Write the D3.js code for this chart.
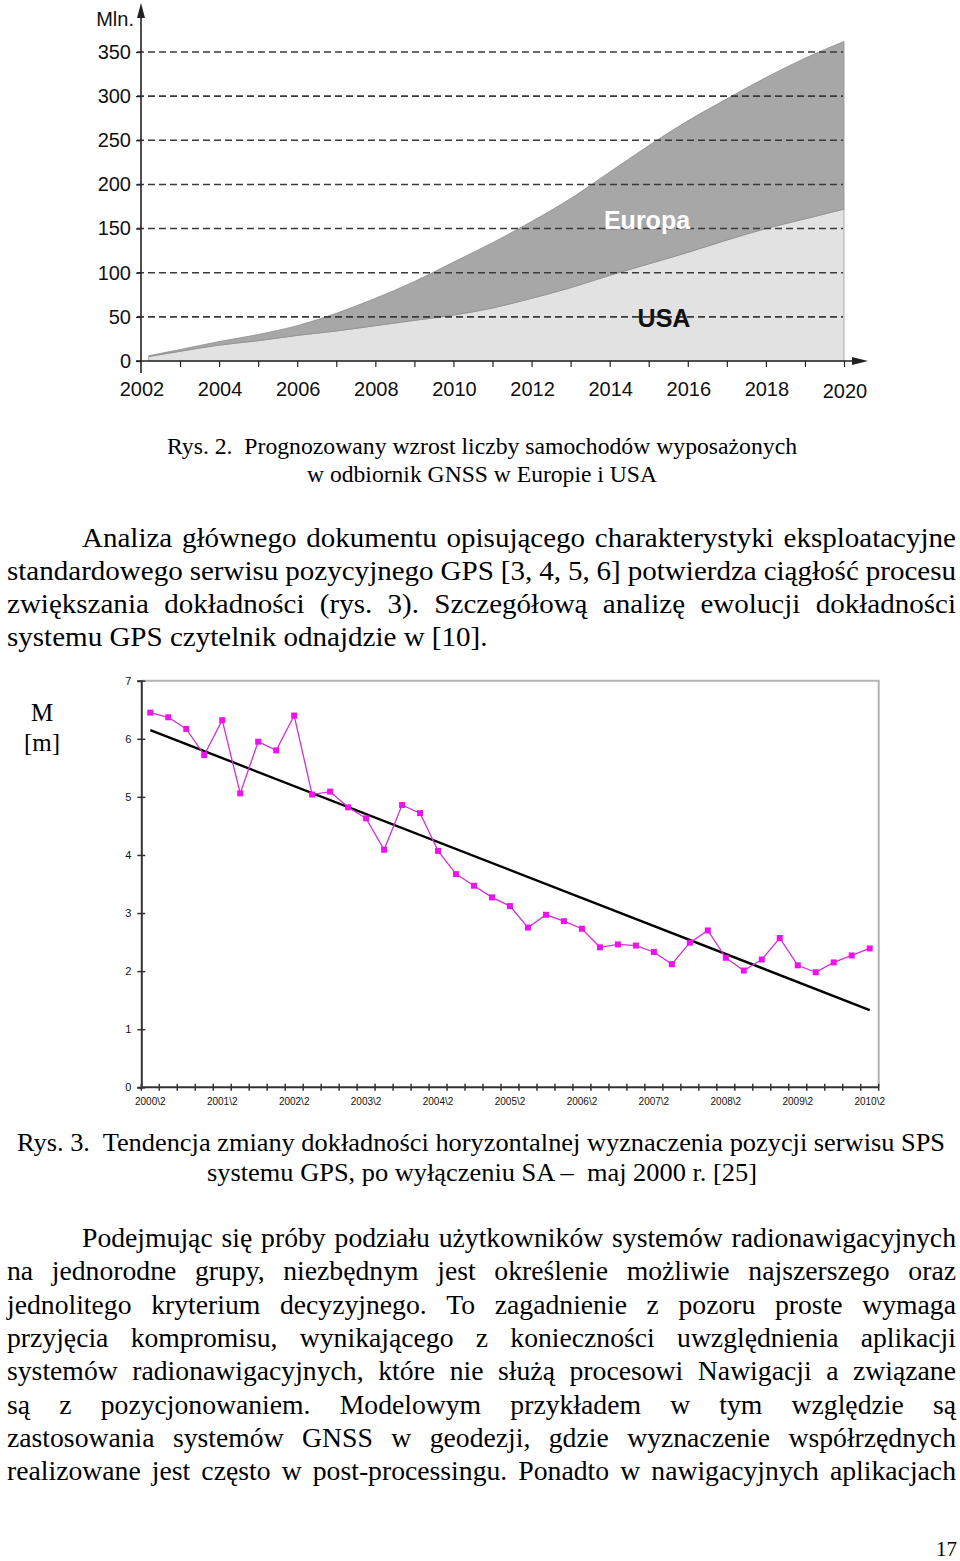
<!DOCTYPE html>
<meta charset="utf-8">
<script src="https://d3js.org/d3.v7.min.js"></script>
<style>
  body { margin: 0; background: #fff; }
</style>
<div id="page"></div>
<script>

// Rys. 2 - cars with GNSS receivers, mln (stacked: USA + Europa)
var years = [2002.2, 2003, 2004, 2005, 2006, 2007, 2008, 2009, 2010, 2011,
             2012, 2013, 2014, 2015, 2016, 2017, 2018, 2019, 2020];
var usaValues = [5, 11, 18, 23, 29, 34, 40, 46, 52, 60,
                 71, 83, 97, 110, 123, 137, 150, 161, 172];
var europaValues = [1, 2, 4, 7, 11, 20, 31, 44, 60, 74,
                    87, 101, 117, 134, 149, 160, 171, 182, 190];
var yearLabels = [2002, 2004, 2006, 2008, 2010, 2012, 2014, 2016, 2018, 2020];
var mlnTicks = [0, 50, 100, 150, 200, 250, 300, 350];

// Rys. 3 - horizontal accuracy M [m] by quarter
var quarters = ["2000\\2", "2000\\3", "2000\\4", "2001\\1", "2001\\2", "2001\\3", "2001\\4",
  "2002\\1", "2002\\2", "2002\\3", "2002\\4", "2003\\1", "2003\\2", "2003\\3", "2003\\4",
  "2004\\1", "2004\\2", "2004\\3", "2004\\4", "2005\\1", "2005\\2", "2005\\3", "2005\\4",
  "2006\\1", "2006\\2", "2006\\3", "2006\\4", "2007\\1", "2007\\2", "2007\\3", "2007\\4",
  "2008\\1", "2008\\2", "2008\\3", "2008\\4", "2009\\1", "2009\\2", "2009\\3", "2009\\4",
  "2010\\1", "2010\\2"];
var accuracy = [6.45, 6.37, 6.17, 5.72, 6.32, 5.06, 5.95, 5.80, 6.40, 5.04,
                5.09, 4.82, 4.63, 4.09, 4.86, 4.72, 4.07, 3.67, 3.47, 3.27,
                3.12, 2.75, 2.97, 2.86, 2.73, 2.41, 2.46, 2.44, 2.33, 2.12,
                2.49, 2.70, 2.23, 2.01, 2.20, 2.57, 2.10, 1.98, 2.15, 2.27, 2.39];
var trendEnds = [6.15, 1.33];
var accTicks = [0, 1, 2, 3, 4, 5, 6, 7];

// page texts
var caption2 = ["Rys. 2.  Prognozowany wzrost liczby samochodów wyposażonych",
                "w odbiornik GNSS w Europie i USA"];
var para1 = ["Analiza głównego dokumentu opisującego charakterystyki eksploatacyjne",
  "standardowego serwisu pozycyjnego GPS [3, 4, 5, 6] potwierdza ciągłość procesu",
  "zwiększania dokładności (rys. 3). Szczegółową analizę ewolucji dokładności",
  "systemu GPS czytelnik odnajdzie w [10]."];
var caption3 = ["Rys. 3.  Tendencja zmiany dokładności horyzontalnej wyznaczenia pozycji serwisu SPS",
                "systemu GPS, po wyłączeniu SA –  maj 2000 r. [25]"];
var para2 = ["Podejmując się próby podziału użytkowników systemów radionawigacyjnych",
  "na jednorodne grupy, niezbędnym jest określenie możliwie najszerszego oraz",
  "jednolitego kryterium decyzyjnego. To zagadnienie z pozoru proste wymaga",
  "przyjęcia kompromisu, wynikającego z konieczności uwzględnienia aplikacji",
  "systemów radionawigacyjnych, które nie służą procesowi Nawigacji a związane",
  "są z pozycjonowaniem. Modelowym przykładem w tym względzie są",
  "zastosowania systemów GNSS w geodezji, gdzie wyznaczenie współrzędnych",
  "realizowane jest często w post-processingu. Ponadto w nawigacyjnych aplikacjach"];
var pageNumber = "17";

var sans = "'Liberation Sans', Arial, sans-serif",
    serif = "'Liberation Serif', 'Times New Roman', serif";

var svg = d3.select("#page")
  .append("svg")
    .attr("width", 960)
    .attr("height", 1561)
    .style("display", "block");

// ---------------- Rys. 2 ----------------
var x1 = d3.scaleLinear().domain([2002, 2020]).range([141, 844]);
var y1 = d3.scaleLinear().domain([0, 350]).range([361, 52]);

var rows = years.map(function (yr, i) {
  return {year: yr, usa: usaValues[i], europa: europaValues[i]};
});
var stacked = d3.stack().keys(["usa", "europa"])(rows);
var areaColor = {usa: "#e2e2e2", europa: "#a7a7a7"};
var edgeColor = {usa: "#9a9a9a", europa: "#8e8e8e"};

var area = d3.area()
  .x(function (d) { return x1(d.data.year); })
  .y0(function (d) { return y1(d[0]); })
  .y1(function (d) { return y1(d[1]); })
  .curve(d3.curveMonotoneX);

var chart1 = svg.append("g");

chart1.selectAll("path.layer")
  .data(stacked)
  .enter()
  .append("path")
    .attr("class", "layer")
    .attr("d", area)
    .style("fill", function (d) { return areaColor[d.key]; })
    .style("stroke", function (d) { return edgeColor[d.key]; })
    .style("stroke-width", 0.8);

// dashed grid lines
chart1.selectAll("line.grid")
  .data(mlnTicks.filter(function (d) { return d > 0; }))
  .enter()
  .append("line")
    .attr("x1", x1.range()[0] - 4)
    .attr("x2", x1(2020) - 1)
    .attr("y1", function (d) { return y1(d); })
    .attr("y2", function (d) { return y1(d); })
    .style("stroke", "#3a3a3a")
    .style("stroke-width", 1.6)
    .style("stroke-dasharray", "7,4");

// y axis
var yAxis = chart1.append("g")
  .attr("transform", "translate(" + x1.range()[0] + ",0)")
  .call(d3.axisLeft(y1).tickValues(mlnTicks).tickSize(5).tickPadding(5));
yAxis.select(".domain").remove();
yAxis.selectAll("line").style("stroke", "#222").style("stroke-width", 1.2);
yAxis.selectAll("text")
  .style("font-family", sans)
  .style("font-size", "20px")
  .style("fill", "#111");

chart1.append("line")
  .attr("x1", x1.range()[0]).attr("x2", x1.range()[0])
  .attr("y1", y1(0) + 12).attr("y2", y1.range()[1] - 38)
  .style("stroke", "#222").style("stroke-width", 1.6);
chart1.append("path")
  .attr("d", "M" + x1.range()[0] + "," + (y1.range()[1] - 49) +
             "l-4,15l8,0z")
  .style("fill", "#222");
chart1.append("text")
  .attr("x", x1.range()[0] - 7)
  .attr("y", 26)
  .attr("text-anchor", "end")
  .style("font-family", sans)
  .style("font-size", "20px")
  .style("fill", "#111")
  .text("Mln.");

// x axis
var xAxis = chart1.append("g")
  .attr("transform", "translate(0," + y1(0) + ")")
  .call(d3.axisBottom(x1).tickValues(d3.range(2003, 2021)).tickSize(6).tickFormat(""));
xAxis.select(".domain").remove();
xAxis.selectAll("line").style("stroke", "#222").style("stroke-width", 1.2);

chart1.append("line")
  .attr("x1", x1.range()[0] - 5).attr("x2", x1.range()[1] + 10)
  .attr("y1", y1(0)).attr("y2", y1(0))
  .style("stroke", "#222").style("stroke-width", 1.6);
chart1.append("path")
  .attr("d", "M" + (x1.range()[1] + 24) + "," + y1(0) + "l-16,-4l0,8z")
  .style("fill", "#222");

chart1.selectAll("text.year")
  .data(yearLabels)
  .enter()
  .append("text")
    .attr("class", "year")
    .attr("x", function (d) { return x1(d) + 1; })
    .attr("y", function (d) { return d === 2020 ? 398 : 396; })
    .attr("text-anchor", "middle")
    .style("font-family", sans)
    .style("font-size", "20px")
    .style("fill", "#111")
    .text(function (d) { return d; });

chart1.append("text")
  .attr("x", 647).attr("y", 229)
  .attr("text-anchor", "middle")
  .style("font-family", sans)
  .style("font-weight", "bold")
  .style("font-size", "25px")
  .style("fill", "#fff")
  .text("Europa");
chart1.append("text")
  .attr("x", 664).attr("y", 327)
  .attr("text-anchor", "middle")
  .style("font-family", sans)
  .style("font-weight", "bold")
  .style("font-size", "25px")
  .style("fill", "#111")
  .text("USA");

// ---------------- text helpers ----------------
function centredLine(str, cx, yb, size, len) {
  svg.append("text")
    .attr("x", cx - len / 2)
    .attr("y", yb)
    .attr("textLength", len)
    .attr("lengthAdjust", "spacingAndGlyphs")
    .style("white-space", "pre")
    .style("font-family", serif)
    .style("font-size", size + "px")
    .style("fill", "#000")
    .text(str);
}

// one line of body text; words slightly widened (k) to match the scan
function bodyLine(str, xa, xb, yb, size, k, justify) {
  var words = str.split(" ");
  var g = svg.append("g")
    .style("font-family", serif)
    .style("font-size", size + "px")
    .style("fill", "#000");
  var nodes = words.map(function (w) { return g.append("text").attr("y", yb).text(w); });
  var widths = nodes.map(function (n) { return n.node().getComputedTextLength() * k; });
  nodes.forEach(function (n, i) {
    n.attr("textLength", widths[i]).attr("lengthAdjust", "spacingAndGlyphs");
  });
  var total = d3.sum(widths);
  var gap = (justify && words.length > 1) ? (xb - xa - total) / (words.length - 1) : size * 0.25 * k;
  var cur = xa;
  nodes.forEach(function (n, i) { n.attr("x", cur); cur += widths[i] + gap; });
}

centredLine(caption2[0], 482, 454, 23, 630);
centredLine(caption2[1], 482, 482, 23, 350);

var bodySize = 27, left = 7, right = 956, indent = 82;
var para1Base = [547, 580, 613, 646];
para1.forEach(function (s, i) {
  bodyLine(s, i === 0 ? indent : left, right, para1Base[i], bodySize, 1.075, i < para1.length - 1);
});

// ---------------- Rys. 3 ----------------
var x2 = d3.scaleBand().domain(quarters).range([141.3, 878.7]).padding(0);
var y2 = d3.scaleLinear().domain([0, 7]).range([1087.3, 680.7]);
var chart2 = svg.append("g");

// plot frame (top/right grey)
chart2.append("path")
  .attr("d", "M" + x2.range()[0] + "," + y2(7) + "H" + x2.range()[1] + "V" + y2(0))
  .style("fill", "none")
  .style("stroke", "#b3b3b3")
  .style("stroke-width", 2);

var yAxis2 = chart2.append("g")
  .attr("transform", "translate(" + x2.range()[0] + ",0)")
  .call(d3.axisLeft(y2).tickValues(accTicks).tickSize(4).tickPadding(6).tickFormat(d3.format("d")));
yAxis2.select(".domain").style("stroke", "#333").style("stroke-width", 2);
yAxis2.selectAll(".tick line").attr("x2", -4).attr("x1", 4).style("stroke", "#333").style("stroke-width", 1.5);
yAxis2.selectAll("text")
  .style("font-family", sans)
  .style("font-size", "11px")
  .style("fill", "#111");

// x axis: ticks at quarter boundaries, labels each year
var bounds = quarters.map(function (q) { return x2(q); }).concat([x2.range()[1]]);
chart2.append("line")
  .attr("x1", x2.range()[0]).attr("x2", x2.range()[1])
  .attr("y1", y2(0)).attr("y2", y2(0))
  .style("stroke", "#333").style("stroke-width", 2);
chart2.selectAll("line.qtick")
  .data(bounds)
  .enter()
  .append("line")
    .attr("class", "qtick")
    .attr("x1", function (d) { return d; }).attr("x2", function (d) { return d; })
    .attr("y1", y2(0) - 3.5).attr("y2", y2(0) + 3.5)
    .style("stroke", "#333").style("stroke-width", 1.5);
chart2.selectAll("text.qlab")
  .data(quarters.filter(function (q, i) { return i % 4 === 0; }))
  .enter()
  .append("text")
    .attr("class", "qlab")
    .attr("x", function (d) { return x2(d) + x2.bandwidth() / 2; })
    .attr("y", y2(0) + 18)
    .attr("text-anchor", "middle")
    .style("font-family", sans)
    .style("font-size", "10px")
    .style("fill", "#111")
    .text(function (d) { return d; });

// trend line
chart2.append("line")
  .attr("x1", x2(quarters[0]) + x2.bandwidth() / 2)
  .attr("x2", x2(quarters[quarters.length - 1]) + x2.bandwidth() / 2)
  .attr("y1", y2(trendEnds[0]))
  .attr("y2", y2(trendEnds[1]))
  .style("stroke", "#000")
  .style("stroke-width", 2.4);

// series
var pts = quarters.map(function (q, i) { return {q: q, v: accuracy[i]}; });
chart2.append("path")
  .datum(pts)
  .attr("d", d3.line()
    .x(function (d) { return x2(d.q) + x2.bandwidth() / 2; })
    .y(function (d) { return y2(d.v); }))
  .style("fill", "none")
  .style("stroke", "#d42fd4")
  .style("stroke-width", 1.3);
chart2.selectAll("rect.pt")
  .data(pts)
  .enter()
  .append("rect")
    .attr("class", "pt")
    .attr("x", function (d) { return x2(d.q) + x2.bandwidth() / 2 - 3; })
    .attr("y", function (d) { return y2(d.v) - 3; })
    .attr("width", 6)
    .attr("height", 6)
    .style("fill", "#f010f0");

chart2.append("text")
  .attr("x", 42).attr("y", 721)
  .attr("text-anchor", "middle")
  .style("font-family", serif)
  .style("font-size", "25px")
  .text("M");
chart2.append("text")
  .attr("x", 42).attr("y", 751)
  .attr("text-anchor", "middle")
  .style("font-family", serif)
  .style("font-size", "25px")
  .text("[m]");

centredLine(caption3[0], 481, 1151, 25, 928);
centredLine(caption3[1], 482, 1181, 25, 550);

var para2Base = [1247, 1280, 1314, 1347, 1380, 1414, 1447, 1480];
para2.forEach(function (s, i) {
  bodyLine(s, i === 0 ? indent : left, right, para2Base[i], bodySize, 1.025, true);
});

svg.append("text")
  .attr("x", 957).attr("y", 1556)
  .attr("text-anchor", "end")
  .style("font-family", serif)
  .style("font-size", "21px")
  .text(pageNumber);

</script>
